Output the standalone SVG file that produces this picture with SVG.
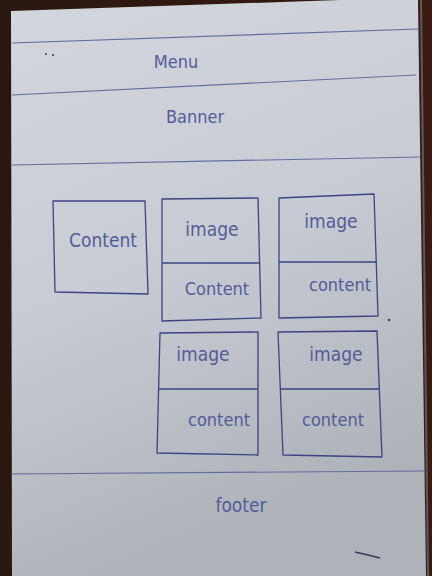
<svg xmlns="http://www.w3.org/2000/svg" width="432" height="576" viewBox="0 0 432 576">
  <defs>
    <linearGradient id="paper" x1="0" y1="0" x2="0.3" y2="1">
      <stop offset="0" stop-color="#d3d6dd"/>
      <stop offset="0.5" stop-color="#c8ccd4"/>
      <stop offset="1" stop-color="#aeb2b9"/>
    </linearGradient>
    <linearGradient id="desk" x1="0" y1="0" x2="1" y2="0">
      <stop offset="0" stop-color="#2a1712"/>
      <stop offset="1" stop-color="#3a1a12"/>
    </linearGradient>
    <style>
      .rule { fill: none; stroke: #676b9c; stroke-width: 1.2; }
      .box { fill: none; stroke: #3d4383; stroke-width: 1.3; stroke-linejoin: round; }
      .ink { font-family: "DejaVu Sans Condensed", "Liberation Sans Narrow", "Liberation Sans", sans-serif; font-weight: 300; fill: #565b98; text-anchor: middle; }
    </style>
  </defs>

  <!-- desk and sheet of paper -->
  <rect x="0" y="0" width="432" height="576" fill="url(#desk)"/>
  <polygon points="11,11 340,0 418,0 426,576 12,576" fill="url(#paper)"/>
  <line x1="421" y1="0" x2="428" y2="576" stroke="#5a5a60" stroke-width="2"/>

  <!-- section rules -->
  <g id="rules">
    <line class="rule" x1="12" y1="43" x2="418" y2="29"/>
    <line class="rule" x1="12" y1="95" x2="416" y2="75"/>
    <line class="rule" x1="12" y1="165" x2="420" y2="157"/>
    <line class="rule" x1="11" y1="474" x2="425" y2="471"/>
  </g>

  <g id="menu">
    <text class="ink" x="176" y="68" font-size="18">Menu</text>
  </g>
  <g id="banner">
    <text class="ink" x="195" y="123" font-size="18">Banner</text>
  </g>

  <g id="content-main">
    <path class="box" d="M53,201 L145,201 L148,294 L55,292 Z"/>
    <text class="ink" x="103" y="247" font-size="19">Content</text>
  </g>

  <g id="card-1">
    <path class="box" d="M162,199 L258,198 L261,318 L162,321 Z M162,263 L260,263"/>
    <text class="ink" x="212" y="236" font-size="19">image</text>
    <text class="ink" x="217" y="295" font-size="18">Content</text>
  </g>

  <g id="card-2">
    <path class="box" d="M279,198 L374,194 L378,316 L279,318 Z M279,262 L377,262"/>
    <text class="ink" x="331" y="228" font-size="19">image</text>
    <text class="ink" x="340" y="291" font-size="18">content</text>
  </g>

  <g id="card-3">
    <path class="box" d="M160,333 L258,332 L258,455 L157,453 Z M159,389 L258,389"/>
    <text class="ink" x="203" y="361" font-size="19">image</text>
    <text class="ink" x="219" y="426" font-size="18">content</text>
  </g>

  <g id="card-4">
    <path class="box" d="M278,332 L377,331 L382,457 L283,455 Z M280,389 L379,389"/>
    <text class="ink" x="336" y="361" font-size="19">image</text>
    <text class="ink" x="333" y="426" font-size="18">content</text>
  </g>

  <g id="footer">
    <text class="ink" x="241" y="512" font-size="19">footer</text>
  </g>

  <!-- stray pen marks -->
  <g id="marks" stroke="#3a3a50" fill="none">
    <circle cx="46" cy="54" r="0.6" fill="#777"/>
    <circle cx="53" cy="55" r="0.6" fill="#777"/>
    <circle cx="389" cy="320" r="0.9" fill="#444"/>
    <path d="M355,552 L368,555 L380,558" stroke-width="1.6"/>
  </g>
</svg>
